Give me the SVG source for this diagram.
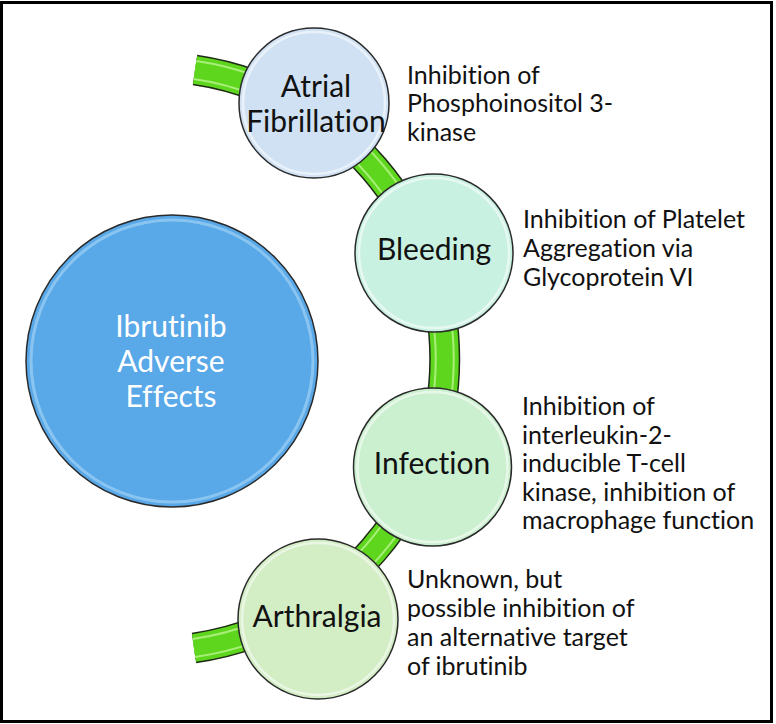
<svg xmlns="http://www.w3.org/2000/svg" width="776" height="724" viewBox="0 0 776 724">
<style>
text{font-variant-ligatures:none;font-feature-settings:"liga" 0,"clig" 0}
.lbl{font-family:Lato,"Liberation Sans",sans-serif;font-size:30px;fill:#111;text-anchor:middle}
.big{font-family:Lato,"Liberation Sans",sans-serif;font-size:30px;fill:#fff;text-anchor:middle}
.desc{font-family:Lato,"Liberation Sans",sans-serif;font-size:25px;fill:#111}
.node{stroke:#2a2a2a;stroke-width:1.5}
.hl{fill:none;stroke:#fff;stroke-opacity:0.55;stroke-width:2.5}
</style>
<rect x="0" y="0" width="776" height="724" fill="#fff"/>
<rect x="1.5" y="2.5" width="770" height="719" fill="none" stroke="#000" stroke-width="3"/>
<g id="connectors" fill="none">
<path d="M195,70 A292,292 0 0 1 194,648" stroke="#1e2a14" stroke-width="31"/>
<path d="M195,70 A292,292 0 0 1 194,648" stroke="#5ed61e" stroke-width="28"/>
<path d="M195,70 A292,292 0 0 1 194,648" stroke="#a8ef78" stroke-width="20"/>
<path d="M195,70 A292,292 0 0 1 194,648" stroke="#5ed61e" stroke-width="16"/>
</g>
<g id="center">
<circle class="node" cx="172" cy="361" r="146" fill="#59a8e8"/>
<circle cx="172" cy="361" r="141" fill="none" stroke="#9fd2f7" stroke-width="3" stroke-opacity="0.7"/>
<text class="big" x="171" y="337">Ibrutinib</text>
<text class="big" x="171" y="372">Adverse</text>
<text class="big" x="171" y="407">Effects</text>
</g>
<g id="atrial">
<circle class="node" cx="314" cy="103" r="75" fill="#cfe1f3"/>
<circle class="hl" cx="314" cy="103" r="71"/>
<text class="lbl" x="316" y="97">Atrial</text>
<text class="lbl" x="316" y="132">Fibrillation</text>
<text class="desc" x="407" y="83.5">Inhibition of</text>
<text class="desc" x="407" y="112">Phosphoinositol 3-</text>
<text class="desc" x="407" y="140.5">kinase</text>
</g>
<g id="bleeding">
<circle class="node" cx="434" cy="253" r="79" fill="#c9f1e2"/>
<circle class="hl" cx="434" cy="253" r="75"/>
<text class="lbl" x="434" y="260">Bleeding</text>
<text class="desc" x="523" y="228">Inhibition of Platelet</text>
<text class="desc" x="523" y="257">Aggregation via</text>
<text class="desc" x="523" y="286">Glycoprotein VI</text>
</g>
<g id="infection">
<circle class="node" cx="432.5" cy="467" r="79" fill="#cbf0cf"/>
<circle class="hl" cx="432.5" cy="467" r="75"/>
<text class="lbl" x="432" y="474">Infection</text>
<text class="desc" x="522" y="415">Inhibition of</text>
<text class="desc" x="522" y="443.5">interleukin-2-</text>
<text class="desc" x="522" y="472">inducible T-cell</text>
<text class="desc" x="522" y="500.5">kinase, inhibition of</text>
<text class="desc" x="522" y="529">macrophage function</text>
</g>
<g id="arthralgia">
<circle class="node" cx="318" cy="619" r="80" fill="#d3edc5"/>
<circle class="hl" cx="318" cy="619" r="76"/>
<text class="lbl" x="317" y="627">Arthralgia</text>
<text class="desc" x="407" y="588">Unknown, but</text>
<text class="desc" x="407" y="617">possible inhibition of</text>
<text class="desc" x="407" y="646">an alternative target</text>
<text class="desc" x="407" y="675">of ibrutinib</text>
</g>
</svg>
